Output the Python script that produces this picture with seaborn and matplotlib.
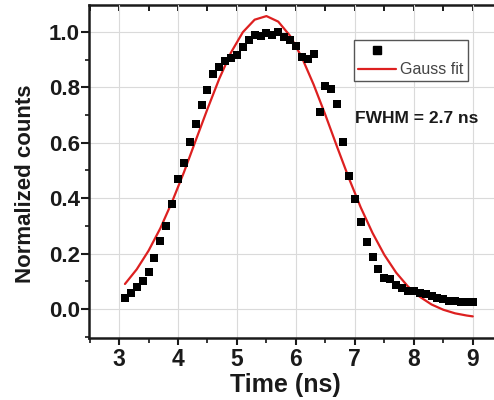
import numpy as np
import pandas as pd
import matplotlib
matplotlib.use('Agg')
import matplotlib.pyplot as plt
from matplotlib.lines import Line2D
from matplotlib.ticker import MultipleLocator
import seaborn as sns

time_ns = [3.1, 3.2, 3.3, 3.4, 3.5, 3.6, 3.7, 3.8, 3.9, 4.0,
           4.1, 4.2, 4.3, 4.4, 4.5, 4.6, 4.7, 4.8, 4.9, 5.0,
           5.1, 5.2, 5.3, 5.4, 5.5, 5.6, 5.7, 5.8, 5.9, 6.0,
           6.1, 6.2, 6.3, 6.4, 6.5, 6.6, 6.7, 6.8, 6.9, 7.0,
           7.1, 7.2, 7.3, 7.4, 7.5, 7.6, 7.7, 7.8, 7.9, 8.0,
           8.1, 8.2, 8.3, 8.4, 8.5, 8.6, 8.7, 8.8, 8.9, 9.0]
counts = [0.039, 0.059, 0.080, 0.102, 0.132, 0.185, 0.244, 0.300, 0.380, 0.468,
          0.528, 0.604, 0.667, 0.736, 0.791, 0.848, 0.875, 0.896, 0.905, 0.917,
          0.945, 0.971, 0.989, 0.986, 0.995, 0.989, 1.001, 0.981, 0.972, 0.949,
          0.911, 0.901, 0.921, 0.712, 0.805, 0.794, 0.740, 0.604, 0.478, 0.396,
          0.312, 0.242, 0.189, 0.143, 0.113, 0.107, 0.087, 0.075, 0.063, 0.063,
          0.059, 0.054, 0.047, 0.039, 0.035, 0.030, 0.030, 0.026, 0.026, 0.026]

# gauss fit curve
fit_x = [3.1, 3.3, 3.5, 3.7, 3.9, 4.1, 4.3, 4.5, 4.7, 4.9,
         5.1, 5.3, 5.5, 5.7, 5.9, 6.1, 6.3, 6.5, 6.7, 6.9,
         7.1, 7.3, 7.5, 7.7, 7.9, 8.1, 8.3, 8.5, 8.7, 8.9, 9.0]
fit_y = [0.090, 0.143, 0.210, 0.291, 0.387, 0.493, 0.608, 0.722, 0.831, 0.926,
         0.999, 1.044, 1.057, 1.037, 0.986, 0.908, 0.810, 0.700, 0.584, 0.471,
         0.366, 0.274, 0.195, 0.131, 0.081, 0.044, 0.016, -0.003, -0.016, -0.024, -0.027]

x_ticks = [3, 4, 5, 6, 7, 8, 9]
y_ticks = [0.0, 0.2, 0.4, 0.6, 0.8, 1.0]
fwhm_text = 'FWHM = 2.7 ns'

sns.set_theme(style='ticks')
plt.rcParams['font.family'] = ['Liberation Sans', 'DejaVu Sans']
plt.rcParams['font.weight'] = 'bold'

red = '#dd2020'
ink = '#1a1a1a'

df = pd.DataFrame({'t': time_ns, 'c': counts})
fit = pd.DataFrame({'t': fit_x, 'c': fit_y})

fig = plt.figure(figsize=(4.94, 4.0), dpi=100)
ax = fig.add_axes([89 / 494, 62 / 400, 405 / 494, 333 / 400])

ax.grid(True, which='major', color='#dadada', linewidth=0.8)
ax.set_axisbelow(True)

sns.lineplot(data=fit, x='t', y='c', color=red, linewidth=1.6, ax=ax, zorder=3)
sns.scatterplot(data=df, x='t', y='c', marker='s', color='black', s=26,
                linewidth=0, ax=ax, zorder=4, legend=False)

ax.set_xlim(2.49, 9.36)
ax.set_ylim(-0.105, 1.097)
ax.set_xticks(x_ticks)
ax.set_yticks(y_ticks)
ax.set_yticklabels([f'{v:.1f}' for v in y_ticks])
ax.xaxis.set_minor_locator(MultipleLocator(0.5))
ax.yaxis.set_minor_locator(MultipleLocator(0.1))

ax.tick_params(axis='x', which='major', direction='out', length=5, width=1.5,
               pad=2.5, labelsize=16.5, colors=ink, top=False)
ax.tick_params(axis='x', which='minor', direction='out', length=3.5, width=1.3, top=False)
ax.tick_params(axis='y', which='major', direction='out', length=5.5, width=1.5,
               pad=1, labelsize=16, colors=ink, right=False)
ax.tick_params(axis='y', which='minor', direction='out', length=3, width=1.3, right=False)

for side in ['left', 'bottom']:
    ax.spines[side].set_linewidth(1.8)
    ax.spines[side].set_color(ink)
ax.spines['right'].set_visible(False)
ax.spines['top'].set_visible(False)

# top axis with inward ticks
top = ax.secondary_xaxis('top')
top.set_xticks(x_ticks)
top.xaxis.set_minor_locator(MultipleLocator(0.5))
top.tick_params(which='both', direction='in', length=4, width=1.4, labeltop=False, colors=ink)
top.spines['top'].set_linewidth(1.8)
top.spines['top'].set_color(ink)

ax.set_xlabel('Time (ns)', fontsize=18, fontweight='bold', color=ink)
ax.set_ylabel('Normalized counts', fontsize=16, fontweight='bold', color=ink)
ax.xaxis.set_label_coords(0.484, -0.104)
ax.yaxis.set_label_coords(-0.131, 0.464)

ax.text(7.0, 0.670, fwhm_text, fontsize=12.5, fontweight='bold', color=ink,
        va='baseline', ha='left')

handles = [Line2D([], [], marker='s', color='black', linestyle='none', markersize=5.5),
           Line2D([], [], color=red, linewidth=1.6)]
leg = ax.legend(handles, ['', 'Gauss fit'], loc='upper right',
                bbox_to_anchor=(0.935, 0.895), borderaxespad=0,
                prop={'weight': 'normal', 'size': 11.5}, handlelength=2.4,
                handletextpad=0.25, labelspacing=0.22, borderpad=0.25,
                fancybox=False, framealpha=1, edgecolor='#555555')
leg.get_frame().set_linewidth(1.0)
for t in leg.get_texts():
    t.set_color('#444444')

fig.savefig('out.png', dpi=100)
